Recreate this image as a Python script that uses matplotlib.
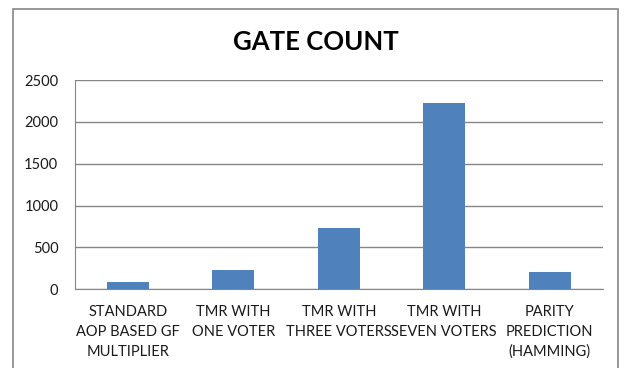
import matplotlib
matplotlib.use("Agg")
import matplotlib.pyplot as plt
from matplotlib.patches import Rectangle

categories = ["STANDARD\nAOP BASED GF\nMULTIPLIER", "TMR WITH\nONE VOTER",
              "TMR WITH\nTHREE VOTERS", "TMR WITH\nSEVEN VOTERS",
              "PARITY\nPREDICTION\n(HAMMING)"]
gate_count = [84, 228, 730, 2228, 204]
yticks = [0, 500, 1000, 1500, 2000, 2500]

plt.rcParams['font.family'] = ['Lato', 'DejaVu Sans']

fig = plt.figure(figsize=(6.26, 3.68), dpi=100)
fig.patches.append(Rectangle((13/626, -0.1), (618-13)/626, 1.1 - 9/368,
                             transform=fig.transFigure, fill=False,
                             edgecolor='#868686', linewidth=1.2))
ax = fig.add_axes([75/626, 1-289.3/368, (602.5-75)/626, (289.3-80)/368])
x = list(range(len(categories)))
ax.bar(x, gate_count, width=0.4, color='#4F81BD', zorder=3)
ax.set_xlim(-0.5, len(categories) - 0.5)
ax.set_ylim(0, 2500)
ax.set_yticks(yticks)
ax.set_yticklabels([str(v) for v in yticks], fontsize=10.5, color='#1a1a1a')
ax.set_xticks(x)
ax.set_xticklabels(categories, fontsize=10.5, color='#1a1a1a', linespacing=1.55)
ax.tick_params(axis='both', length=0)
ax.tick_params(axis='x', pad=11)
ax.tick_params(axis='y', pad=12)
ax.grid(axis='y', color='#868686', linewidth=1.0, zorder=0)
for s in ['top', 'right']:
    ax.spines[s].set_visible(False)
ax.spines['left'].set_color('#868686')
ax.spines['bottom'].set_color('#868686')
fig.text(316/626, 1-42/368, "GATE COUNT", ha='center', va='center',
         fontsize=18.5, fontweight='bold', color='#000000')
fig.savefig("out.png", dpi=100)
